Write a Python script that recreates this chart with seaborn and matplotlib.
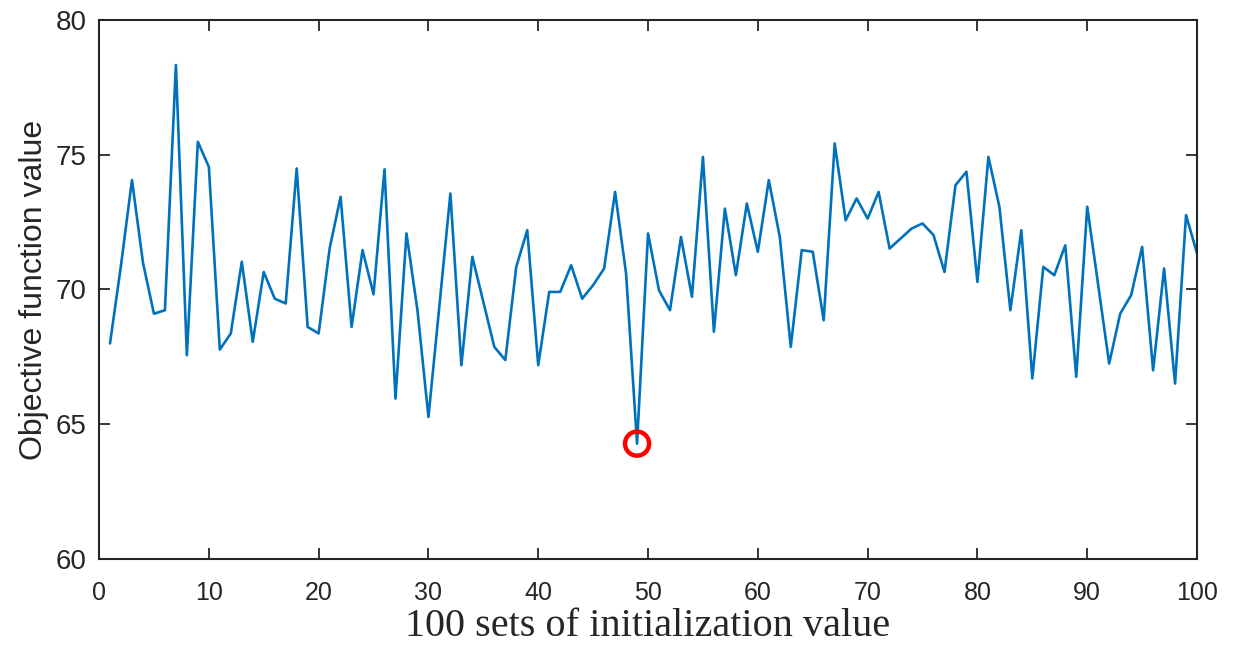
import numpy as np
import pandas as pd
import matplotlib
matplotlib.use("Agg")
import matplotlib.pyplot as plt
import seaborn as sns

# ---- data ----
run_index = list(range(1, 101))
objective_values = [
    68.0, 70.9, 74.06, 71.0, 69.1, 69.23, 78.33, 67.56, 75.48, 74.55,
    67.77, 68.37, 71.03, 68.06, 70.65, 69.66, 69.48, 74.49, 68.61, 68.37,
    71.52, 73.44, 68.61, 71.46, 69.82, 74.46, 65.95, 72.08, 69.23, 65.27,
    69.4, 73.56, 67.19, 71.21, 69.54, 67.87, 67.38, 70.84, 72.2, 67.19,
    69.91, 69.91, 70.9, 69.66, 70.16, 70.78, 73.62, 70.59, 64.28, 72.08,
    69.97, 69.23, 71.95, 69.73, 74.92, 68.43, 73.0, 70.53, 73.19, 71.4,
    74.06, 71.95, 67.87, 71.46, 71.4, 68.86, 75.42, 72.57, 73.38, 72.63,
    73.62, 71.52, 71.89, 72.26, 72.45, 72.02, 70.65, 73.87, 74.37, 70.28,
    74.92, 73.07, 69.23, 72.2, 66.7, 70.84, 70.53, 71.64, 66.76, 73.07,
    70.16, 67.25, 69.1, 69.79, 71.58, 67.0, 70.78, 66.51, 72.76, 71.34,
]
best_index = [49]
best_value = [64.28]
x_ticks = [0, 10, 20, 30, 40, 50, 60, 70, 80, 90, 100]
y_ticks = [60, 65, 70, 75, 80]
x_label = "100 sets of initialization value"
y_label = "Objective function value"

df = pd.DataFrame({"run": run_index, "value": objective_values})
best_df = pd.DataFrame({"run": best_index, "value": best_value})

sns.set_theme(style="white")
plt.rcParams["font.family"] = ["Liberation Sans", "DejaVu Sans"]

fig = plt.figure(figsize=(12.38, 6.58), dpi=100)
ax = fig.add_axes([0.080, 0.1505, 0.8869, 0.8191])

sns.lineplot(data=df, x="run", y="value", ax=ax, color="#0072BD",
             linewidth=1.9, legend=False)
sns.scatterplot(data=best_df, x="run", y="value", ax=ax, s=300,
                marker="o", facecolor="none", edgecolor="#FF0000",
                linewidth=3.2, zorder=5, legend=False)

ax.set_xlim(0, 100)
ax.set_ylim(60, 80)
ax.set_xticks(x_ticks)
ax.set_yticks(y_ticks)
ax.set_xticklabels([str(t) for t in x_ticks],
                   family=["Liberation Sans Narrow", "Liberation Sans"],
                   fontsize=18, color="#262626")
ax.set_yticklabels([str(t) for t in y_ticks], fontsize=20, color="#262626")

ax.tick_params(axis="x", direction="in", length=8, width=1.3,
               top=True, bottom=True, pad=16, colors="#262626")
ax.tick_params(axis="y", direction="in", length=8, width=1.3,
               left=True, right=True, pad=9, colors="#262626")

for sp in ax.spines.values():
    sp.set_visible(True)
    sp.set_color("#262626")
    sp.set_linewidth(1.5)

ax.set_xlabel(x_label, family=["Liberation Serif", "DejaVu Serif"],
              fontsize=29, color="#262626", labelpad=2)
ax.set_ylabel(y_label, fontsize=23, color="#262626", labelpad=5)
ax.grid(False)

fig.savefig("out.png", dpi=100)
